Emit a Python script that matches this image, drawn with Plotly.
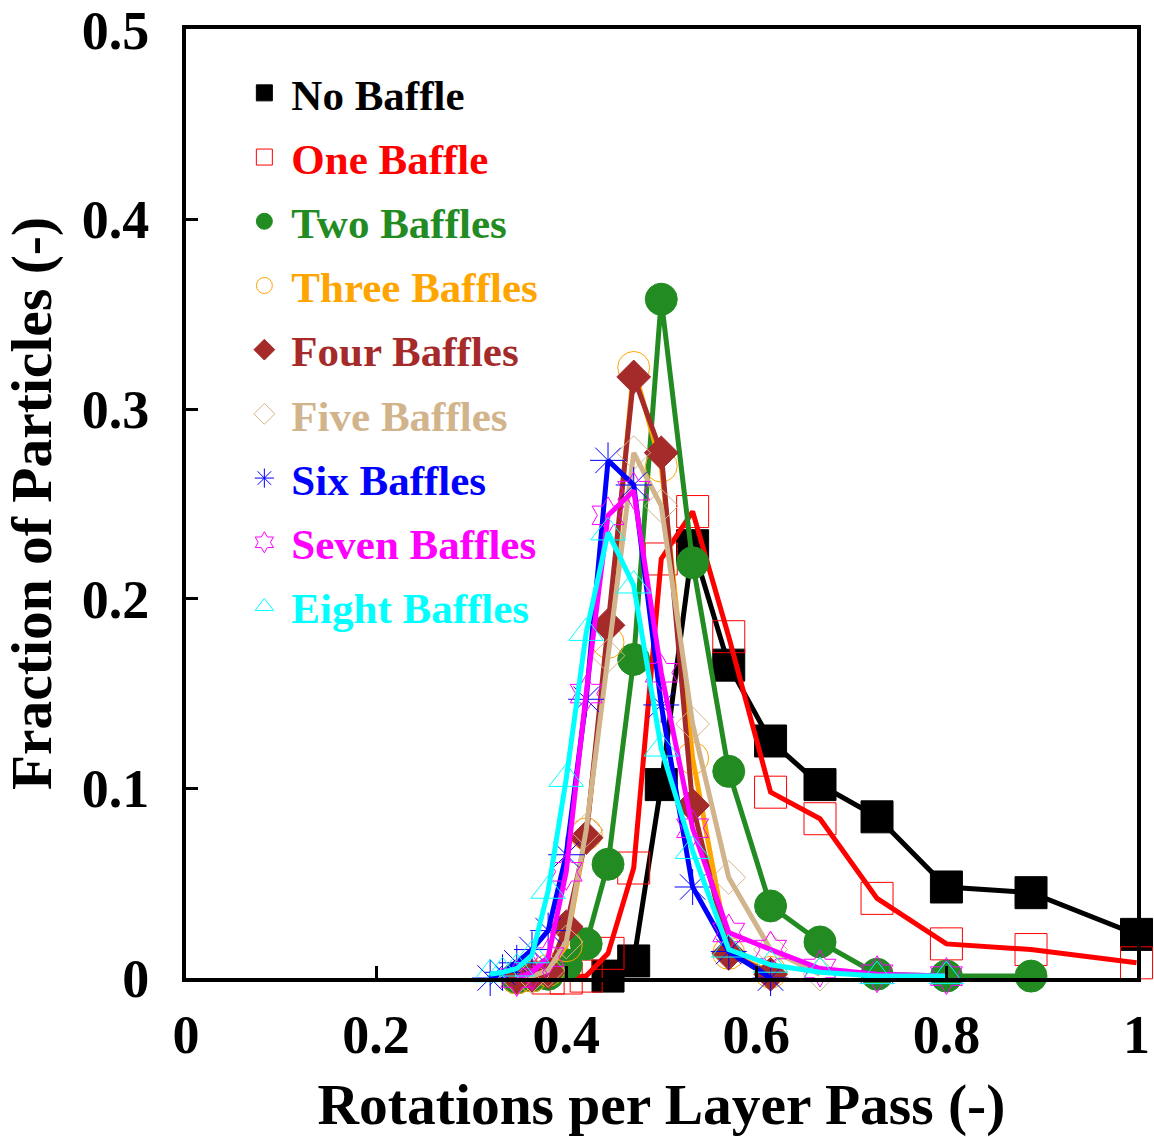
import plotly.graph_objects as go

# ---------------- data ----------------
names = ["No Baffle", "One Baffle", "Two Baffles", "Three Baffles", "Four Baffles",
         "Five Baffles", "Six Baffles", "Seven Baffles", "Eight Baffles"]

x_no = [0.444, 0.471, 0.500, 0.533, 0.571, 0.615, 0.667, 0.727, 0.800, 0.889, 1.000]
y_no = [0.001, 0.009, 0.102, 0.228, 0.165, 0.125, 0.102, 0.085, 0.048, 0.045, 0.023]

x_one = [0.381, 0.400, 0.421, 0.444, 0.471, 0.500, 0.533, 0.571, 0.615, 0.667, 0.727, 0.800, 0.889, 1.000]
y_one = [0.000, 0.000, 0.001, 0.013, 0.058, 0.221, 0.246, 0.180, 0.098, 0.084, 0.042, 0.018, 0.015, 0.008]

x_two = [0.348, 0.364, 0.381, 0.400, 0.421, 0.444, 0.471, 0.500, 0.533, 0.571, 0.615, 0.667, 0.727, 0.800, 0.889]
y_two = [0.000, 0.001, 0.002, 0.007, 0.018, 0.060, 0.168, 0.358, 0.219, 0.109, 0.038, 0.019, 0.002, 0.001, 0.001]

x_three = [0.348, 0.364, 0.381, 0.400, 0.421, 0.444, 0.471, 0.500, 0.533, 0.571, 0.615]
y_three = [0.000, 0.001, 0.004, 0.017, 0.076, 0.177, 0.322, 0.270, 0.116, 0.013, 0.003]

x_four = [0.348, 0.364, 0.381, 0.400, 0.421, 0.444, 0.471, 0.500, 0.533, 0.571, 0.615]
y_four = [0.000, 0.001, 0.003, 0.027, 0.074, 0.186, 0.317, 0.277, 0.091, 0.013, 0.002]

x_five = [0.348, 0.364, 0.381, 0.400, 0.421, 0.444, 0.471, 0.500, 0.533, 0.571, 0.615, 0.667]
y_five = [0.000, 0.001, 0.004, 0.019, 0.078, 0.170, 0.277, 0.249, 0.134, 0.053, 0.015, 0.002]

x_six = [0.320, 0.333, 0.348, 0.364, 0.381, 0.400, 0.421, 0.444, 0.471, 0.500, 0.533, 0.571, 0.615]
y_six = [0.000, 0.003, 0.008, 0.015, 0.025, 0.065, 0.147, 0.273, 0.260, 0.144, 0.048, 0.014, 0.000]

x_seven = [0.348, 0.364, 0.381, 0.400, 0.421, 0.444, 0.471, 0.500, 0.533, 0.571, 0.615, 0.667, 0.727, 0.800]
y_seven = [0.000, 0.003, 0.011, 0.056, 0.150, 0.244, 0.257, 0.161, 0.079, 0.024, 0.015, 0.005, 0.002, 0.001]

x_eight = [0.320, 0.333, 0.348, 0.364, 0.381, 0.400, 0.421, 0.444, 0.471, 0.500, 0.533, 0.571, 0.615, 0.667, 0.727, 0.800]
y_eight = [0.002, 0.003, 0.005, 0.012, 0.046, 0.105, 0.182, 0.235, 0.207, 0.121, 0.067, 0.015, 0.007, 0.003, 0.001, 0.001]

x_ticks = [0, 0.2, 0.4, 0.6, 0.8, 1]
y_ticks = [0, 0.1, 0.2, 0.3, 0.4, 0.5]

# ---------------- styles ----------------
series = [
    (x_no, y_no, "black", "square", 32),
    (x_one, y_one, "#FF0000", "square-open", 32),
    (x_two, y_two, "#228B22", "circle", 32),
    (x_three, y_three, "#FFA500", "circle-open", 32),
    (x_four, y_four, "#A52A2A", "diamond", 26),
    (x_five, y_five, "#D2B48C", "diamond-open", 26),
    (x_six, y_six, "#0000FF", "asterisk-open", 30),
    (x_seven, y_seven, "#FF00FF", "hexagram-open", 28),
    (x_eight, y_eight, "#00FFFF", "triangle-up-open", 30),
]

FONT = "Liberation Serif"
fig = go.Figure()
for name, (xs, ys, col, sym, sz) in zip(names, series):
    fig.add_trace(go.Scatter(x=xs, y=ys, mode="lines", line=dict(color=col, width=5),
                             showlegend=False, cliponaxis=False, hoverinfo="skip"))
    fig.add_trace(go.Scatter(
        x=xs, y=ys, mode="markers",
        name=f"<span style='color:{col}'>{name}</span>",
        legendgroup=name,
        marker=dict(symbol=sym, size=sz, color=col, line=dict(color=col, width=1)),
        cliponaxis=False))

axis_common = dict(showline=True, linewidth=4, linecolor="black", mirror=True,
                   ticks="inside", ticklen=12, tickwidth=3, tickcolor="black",
                   showgrid=False, zeroline=False, automargin=False,
                   tickfont=dict(family=FONT, size=54, color="black", weight="bold"))

fig.update_xaxes(range=[0, 1.0005], tickvals=x_ticks, ticktext=["0", "0.2", "0.4", "0.6", "0.8", "1"],
                 ticklabelstandoff=6,
                 title=dict(text="Rotations per Layer Pass (-)\u00a0\u00a0", standoff=34,
                            font=dict(family=FONT, size=57.5, color="black", weight="bold")),
                 **axis_common)
fig.update_yaxes(range=[0, 0.5005], tickvals=y_ticks, ticktext=["0", "0.1", "0.2", "0.3", "0.4", "0.5"],
                 ticklabelstandoff=22,
                 title=dict(text="Fraction of Particles (-)", standoff=14,
                            font=dict(family=FONT, size=57.5, color="black", weight="bold")),
                 **axis_common)

fig.update_layout(
    width=1154, height=1137,
    margin=dict(l=186, r=17, t=29, b=159),
    plot_bgcolor="white", paper_bgcolor="white",
    font=dict(family=FONT, color="black"),
    legend=dict(x=0.054, y=0.969, xanchor="left", yanchor="top",
                bgcolor="rgba(0,0,0,0)", borderwidth=0,
                font=dict(family=FONT, size=43, weight="bold"),
                itemwidth=44, tracegroupgap=5.3),
)

fig.write_html("out.html")
